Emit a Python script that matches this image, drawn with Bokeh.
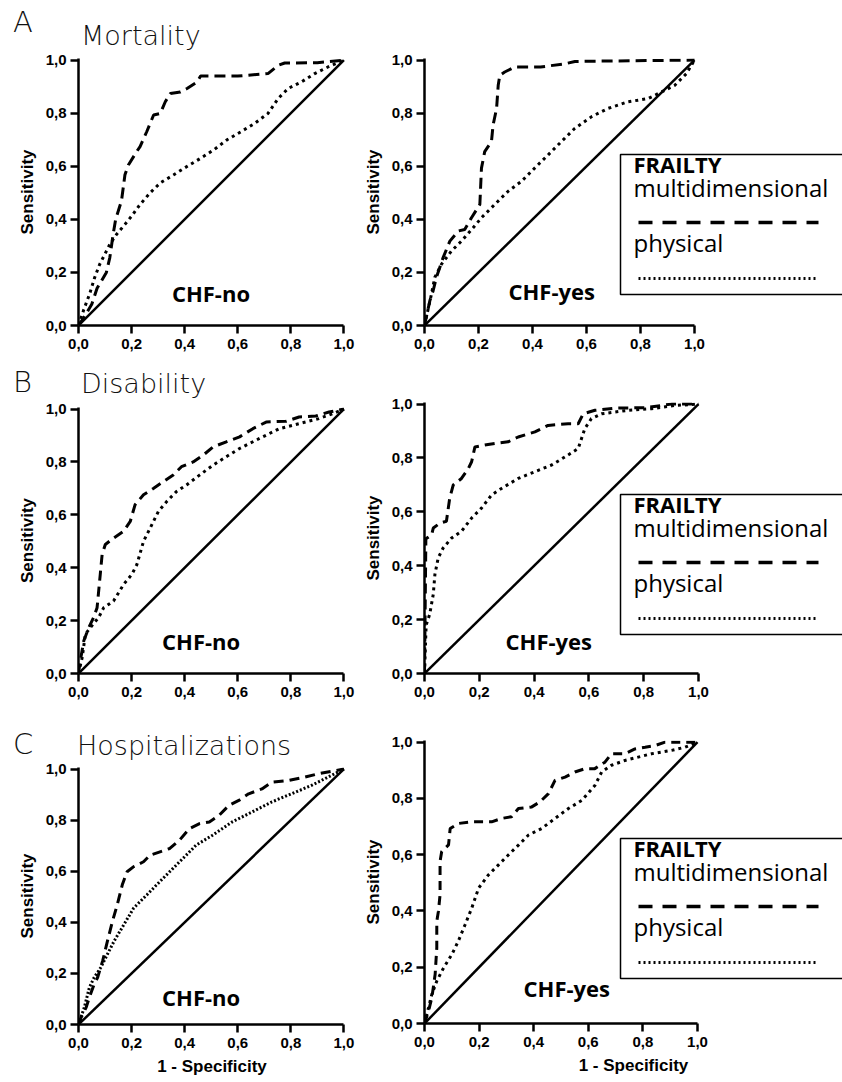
from bokeh.plotting import figure
from bokeh.layouts import column, row
from bokeh.models import Range1d, FixedTicker, Label, BoxAnnotation, Arrow, Div
from bokeh.embed import file_html
from bokeh.resources import INLINE

# ---------------- data ----------------
ticks = [0.0, 0.2, 0.4, 0.6, 0.8, 1.0]
tick_labels = ["0,0", "0,2", "0,4", "0,6", "0,8", "1,0"]
diag_x = [0.0, 1.0]
diag_y = [0.0, 1.0]

section_letters = ["A", "B", "C"]
section_titles = ["Mortality", "Disability", "Hospitalizations"]
group_labels = ["CHF-no", "CHF-yes"]
legend_title = "FRAILTY"
legend_labels = ["multidimensional", "physical"]
y_label = "Sensitivity"
x_label = "1 - Specificity"

# A - Mortality, CHF-no
mort_no_multi_x = [0, 0.02, 0.05, 0.07, 0.105, 0.118, 0.13, 0.14, 0.162, 0.175, 0.188, 0.219, 0.232, 0.257, 0.283, 0.308, 0.327, 0.346, 0.384, 0.409, 0.447, 0.46, 0.60, 0.714, 0.752, 0.777, 0.90, 1.0]
mort_no_multi_y = [0, 0.03, 0.08, 0.14, 0.20, 0.256, 0.34, 0.40, 0.47, 0.568, 0.605, 0.655, 0.674, 0.73, 0.793, 0.799, 0.843, 0.874, 0.88, 0.893, 0.918, 0.94, 0.94, 0.949, 0.98, 0.989, 0.99, 1.0]
mort_no_phys_x = [0, 0.02, 0.042, 0.061, 0.08, 0.099, 0.118, 0.143, 0.175, 0.20, 0.232, 0.27, 0.308, 0.359, 0.41, 0.46, 0.51, 0.56, 0.612, 0.663, 0.714, 0.752, 0.79, 0.84, 0.89, 0.94, 1.0]
mort_no_phys_y = [0, 0.06, 0.119, 0.181, 0.231, 0.268, 0.306, 0.343, 0.381, 0.412, 0.456, 0.50, 0.537, 0.568, 0.60, 0.63, 0.662, 0.70, 0.73, 0.761, 0.799, 0.855, 0.893, 0.918, 0.949, 0.974, 1.0]

# A - Mortality, CHF-yes
mort_yes_multi_x = [0, 0.02, 0.032, 0.044, 0.069, 0.094, 0.125, 0.149, 0.174, 0.205, 0.211, 0.223, 0.248, 0.254, 0.267, 0.273, 0.279, 0.297, 0.334, 0.43, 0.52, 0.557, 1.0]
mort_yes_multi_y = [0, 0.094, 0.131, 0.181, 0.256, 0.318, 0.356, 0.362, 0.406, 0.456, 0.593, 0.655, 0.693, 0.755, 0.818, 0.905, 0.943, 0.955, 0.974, 0.974, 0.986, 0.995, 1.0]
mort_yes_phys_x = [0, 0.026, 0.038, 0.063, 0.10, 0.137, 0.18, 0.211, 0.26, 0.31, 0.359, 0.408, 0.458, 0.507, 0.557, 0.619, 0.68, 0.754, 0.828, 0.878, 0.927, 0.97, 1.0]
mort_yes_phys_y = [0, 0.119, 0.181, 0.231, 0.281, 0.318, 0.368, 0.406, 0.456, 0.506, 0.543, 0.593, 0.643, 0.693, 0.743, 0.787, 0.818, 0.843, 0.855, 0.88, 0.905, 0.949, 1.0]

# B - Disability, CHF-no
dis_no_multi_x = [0, 0.007, 0.02, 0.039, 0.057, 0.07, 0.082, 0.089, 0.101, 0.132, 0.17, 0.195, 0.213, 0.245, 0.282, 0.32, 0.357, 0.388, 0.432, 0.47, 0.507, 0.557, 0.607, 0.657, 0.707, 0.782, 0.831, 0.894, 0.944, 1.0]
dis_no_multi_y = [0, 0.049, 0.124, 0.174, 0.212, 0.249, 0.375, 0.45, 0.488, 0.512, 0.538, 0.575, 0.638, 0.676, 0.70, 0.726, 0.751, 0.782, 0.80, 0.826, 0.857, 0.876, 0.895, 0.926, 0.951, 0.954, 0.97, 0.974, 0.989, 1.0]
dis_no_phys_x = [0, 0.014, 0.026, 0.045, 0.076, 0.095, 0.132, 0.17, 0.201, 0.22, 0.245, 0.27, 0.301, 0.332, 0.369, 0.407, 0.457, 0.507, 0.557, 0.607, 0.682, 0.757, 0.831, 0.906, 0.956, 1.0]
dis_no_phys_y = [0, 0.061, 0.149, 0.174, 0.212, 0.249, 0.274, 0.337, 0.375, 0.412, 0.50, 0.55, 0.613, 0.65, 0.688, 0.713, 0.751, 0.788, 0.82, 0.851, 0.889, 0.926, 0.945, 0.964, 0.982, 1.0]

# B - Disability, CHF-yes
dis_yes_multi_x = [0, 0.005, 0.026, 0.032, 0.056, 0.08, 0.092, 0.105, 0.135, 0.16, 0.172, 0.184, 0.22, 0.257, 0.305, 0.342, 0.403, 0.451, 0.524, 0.561, 0.579, 0.622, 0.695, 0.81, 0.901, 1.0]
dis_yes_multi_y = [0, 0.50, 0.515, 0.54, 0.558, 0.565, 0.651, 0.70, 0.724, 0.761, 0.786, 0.841, 0.848, 0.854, 0.86, 0.878, 0.897, 0.921, 0.927, 0.927, 0.964, 0.977, 0.985, 0.987, 1.0, 1.0]
dis_yes_phys_x = [0, 0.006, 0.019, 0.032, 0.038, 0.05, 0.068, 0.099, 0.135, 0.172, 0.208, 0.245, 0.281, 0.342, 0.403, 0.464, 0.524, 0.561, 0.585, 0.609, 0.646, 0.743, 0.828, 0.914, 1.0]
dis_yes_phys_y = [0, 0.18, 0.22, 0.294, 0.368, 0.429, 0.466, 0.503, 0.528, 0.577, 0.614, 0.663, 0.687, 0.724, 0.749, 0.774, 0.811, 0.835, 0.909, 0.946, 0.964, 0.977, 0.983, 0.995, 1.0]

# C - Hospitalizations, CHF-no
hosp_no_multi_x = [0, 0.01, 0.029, 0.041, 0.059, 0.072, 0.091, 0.109, 0.128, 0.146, 0.165, 0.183, 0.208, 0.245, 0.27, 0.307, 0.344, 0.381, 0.418, 0.456, 0.493, 0.53, 0.567, 0.604, 0.641, 0.691, 0.728, 0.79, 0.852, 0.901, 1.0]
hosp_no_multi_y = [0, 0.028, 0.067, 0.106, 0.158, 0.184, 0.249, 0.326, 0.404, 0.469, 0.547, 0.598, 0.618, 0.637, 0.663, 0.676, 0.689, 0.722, 0.767, 0.786, 0.793, 0.819, 0.858, 0.877, 0.903, 0.922, 0.948, 0.955, 0.968, 0.981, 1.0]
hosp_no_phys_x = [0, 0.022, 0.041, 0.059, 0.084, 0.109, 0.134, 0.171, 0.208, 0.258, 0.307, 0.356, 0.406, 0.443, 0.505, 0.579, 0.654, 0.728, 0.802, 0.876, 0.951, 1.0]
hosp_no_phys_y = [0, 0.067, 0.145, 0.184, 0.223, 0.275, 0.326, 0.391, 0.456, 0.508, 0.56, 0.611, 0.663, 0.702, 0.741, 0.793, 0.832, 0.871, 0.903, 0.935, 0.974, 1.0]

# C - Hospitalizations, CHF-yes
hosp_yes_multi_x = [0, 0.015, 0.027, 0.039, 0.045, 0.045, 0.051, 0.057, 0.057, 0.063, 0.088, 0.094, 0.124, 0.173, 0.246, 0.283, 0.319, 0.344, 0.393, 0.423, 0.454, 0.478, 0.515, 0.551, 0.588, 0.624, 0.661, 0.685, 0.734, 0.771, 0.808, 0.844, 0.881, 1.0]
hosp_yes_multi_y = [0, 0.045, 0.092, 0.175, 0.269, 0.363, 0.399, 0.458, 0.576, 0.611, 0.635, 0.693, 0.711, 0.717, 0.717, 0.729, 0.735, 0.764, 0.77, 0.788, 0.817, 0.864, 0.876, 0.894, 0.906, 0.906, 0.929, 0.959, 0.959, 0.976, 0.982, 0.988, 1.0, 1.0]
hosp_yes_phys_x = [0, 0.015, 0.027, 0.045, 0.07, 0.10, 0.124, 0.149, 0.173, 0.198, 0.234, 0.271, 0.307, 0.344, 0.381, 0.429, 0.478, 0.527, 0.576, 0.624, 0.649, 0.685, 0.734, 0.783, 0.832, 0.905, 0.954, 1.0]
hosp_yes_phys_y = [0, 0.057, 0.104, 0.151, 0.198, 0.245, 0.293, 0.352, 0.41, 0.481, 0.528, 0.564, 0.599, 0.634, 0.67, 0.693, 0.729, 0.764, 0.793, 0.846, 0.894, 0.918, 0.935, 0.947, 0.959, 0.971, 0.982, 1.0]

# ---------------- styling / layout ----------------
TICK_FONT = "Liberation Sans"
TEXT_FONT = "Open Sans"
TITLE_FONT = "DejaVu Sans"

LEFT_W, RIGHT_W = 360, 482          # figure widths (sum = 842)
LEFT_FRAME_X, RIGHT_FRAME_X = 78, 64


def make_panel(mx, my, px, py, fig_w, frame_left, fw, fh, unit_w, top, bottom,
               chf, chf_xy, multi_dash, phys_dash, show_xlabel):
    right = fig_w - frame_left - fw
    p = figure(frame_width=fw, frame_height=fh, output_backend="svg", toolbar_location=None,
               x_range=Range1d(0, fw / unit_w), y_range=Range1d(0, 1.006),
               min_border_left=frame_left, min_border_right=right,
               min_border_top=top, min_border_bottom=bottom)
    p.outline_line_color = None
    p.grid.visible = False
    p.background_fill_alpha = 0
    p.border_fill_alpha = 0
    for ax in (p.xaxis[0], p.yaxis[0]):
        ax.ticker = FixedTicker(ticks=ticks)
        ax.major_label_overrides = {t: l for t, l in zip(ticks, tick_labels)}
        ax.axis_line_width = 2.5
        ax.axis_line_color = "black"
        ax.major_tick_line_width = 2.5
        ax.major_tick_line_color = "black"
        ax.major_tick_in = 0
        ax.major_tick_out = 8
        ax.minor_tick_line_color = None
        ax.major_label_text_font = TICK_FONT
        ax.major_label_text_font_style = "bold"
        ax.major_label_text_font_size = "15px"
        ax.major_label_text_color = "black"
        ax.axis_label_text_font = TICK_FONT
        ax.axis_label_text_font_style = "bold"
        ax.axis_label_text_font_size = "17px"
        ax.axis_label_text_color = "black"
        ax.axis_label_standoff = 6
    p.xaxis[0].major_label_standoff = 5
    p.yaxis[0].major_label_standoff = 4
    p.xaxis[0].bounds = (0, 1)
    p.yaxis[0].axis_label = y_label
    if show_xlabel:
        p.xaxis[0].axis_label = x_label

    p.line(diag_x, diag_y, line_color="black", line_width=2.5)
    p.line(px, py, line_color="black", line_width=3, line_dash=phys_dash)
    p.line(mx, my, line_color="black", line_width=3, line_dash=multi_dash)

    p.add_layout(Label(x=chf_xy[0], y=chf_xy[1], text=chf, text_font=TEXT_FONT,
                       text_font_style="bold", text_font_size="22px", text_color="black"))
    return p


def add_legend(p, bx, btop):
    p.add_layout(BoxAnnotation(left=bx, right=bx + 300, top=btop, bottom=btop - 140,
                               left_units="screen", right_units="screen",
                               top_units="screen", bottom_units="screen",
                               fill_alpha=0, line_color="black", line_alpha=1.0, line_width=1.5))
    p.add_layout(Label(x=bx + 13, y=btop - 24, x_units="screen", y_units="screen", text=legend_title,
                       text_font=TEXT_FONT, text_font_style="bold", text_font_size="22px", text_color="black"))
    p.add_layout(Label(x=bx + 13, y=btop - 49, x_units="screen", y_units="screen", text=legend_labels[0],
                       text_font=TEXT_FONT, text_font_size="24px", text_color="black"))
    p.add_layout(Label(x=bx + 13, y=btop - 104, x_units="screen", y_units="screen", text=legend_labels[1],
                       text_font=TEXT_FONT, text_font_size="24px", text_color="black"))
    p.add_layout(Arrow(x_start=bx + 18, y_start=btop - 68, x_end=bx + 198, y_end=btop - 68,
                       start_units="screen", end_units="screen", start=None, end=None,
                       line_color="black", line_width=3.5, line_dash="14 10"))
    p.add_layout(Arrow(x_start=bx + 18, y_start=btop - 124, x_end=bx + 198, y_end=btop - 124,
                       start_units="screen", end_units="screen", start=None, end=None,
                       line_color="black", line_width=3, line_dash="2 3"))


def title_div(letter, title, height, letter_top, title_top, title_left):
    html = (
        f'<div style="position:relative;width:{LEFT_W}px;height:{height}px;'
        f'font-family:\'{TITLE_FONT}\';font-weight:300;color:#111;white-space:nowrap;">'
        f'<span style="position:absolute;left:13px;top:{letter_top}px;font-size:29px;line-height:1;">{letter}</span>'
        f'<span style="position:absolute;left:{title_left}px;top:{title_top}px;font-size:27px;line-height:1;">{title}</span>'
        f'</div>'
    )
    return Div(text=html, width=LEFT_W, height=height, margin=0, styles={"overflow": "visible"})


aL = make_panel(mort_no_multi_x, mort_no_multi_y, mort_no_phys_x, mort_no_phys_y,
                LEFT_W, LEFT_FRAME_X, 267, 267, 267 / 1.006, 8, 35,
                group_labels[0], (0.352, 0.067), "11 6", "3 4", False)
bL = make_panel(dis_no_multi_x, dis_no_multi_y, dis_no_phys_x, dis_no_phys_y,
                LEFT_W, LEFT_FRAME_X, 267, 266, 267 / 1.006, 9, 52,
                group_labels[0], (0.315, 0.068), "10 6", "3 4", False)
cL = make_panel(hosp_no_multi_x, hosp_no_multi_y, hosp_no_phys_x, hosp_no_phys_y,
                LEFT_W, LEFT_FRAME_X, 267, 257, 267 / 1.006, 10, 53,
                group_labels[0], (0.315, 0.047), "10 6", "2 2", True)

aR = make_panel(mort_yes_multi_x, mort_yes_multi_y, mort_yes_phys_x, mort_yes_phys_y,
                RIGHT_W, RIGHT_FRAME_X, 418, 267, 270, 58, 35,
                group_labels[1], (0.311, 0.075), "11 6", "3 4", False)
bR = make_panel(dis_yes_multi_x, dis_yes_multi_y, dis_yes_phys_x, dis_yes_phys_y,
                RIGHT_W, RIGHT_FRAME_X, 418, 271, 274, 42, 42,
                group_labels[1], (0.296, 0.066), "10 6", "3 4", False)
cR = make_panel(hosp_yes_multi_x, hosp_yes_multi_y, hosp_yes_phys_x, hosp_yes_phys_y,
                RIGHT_W, RIGHT_FRAME_X, 418, 283, 273, 25, 53,
                group_labels[1], (0.363, 0.074), "9 6", "3 4", True)

add_legend(aR, 196, 171)
add_legend(bR, 196, 179)
add_legend(cR, 196, 185)

dA = title_div(section_letters[0], section_titles[0], 50, 8, 22, 81)
dB = title_div(section_letters[1], section_titles[1], 38, 8, 10, 81)
dC = title_div(section_letters[2], section_titles[2], 32, 5, 7, 77)

left_col = column(dA, aL, dB, bL, dC, cL, spacing=0)
right_col = column(aR, bR, cR, spacing=0)
layout = row(left_col, right_col, spacing=0)
open("out.html", "w").write(file_html(layout, INLINE))
